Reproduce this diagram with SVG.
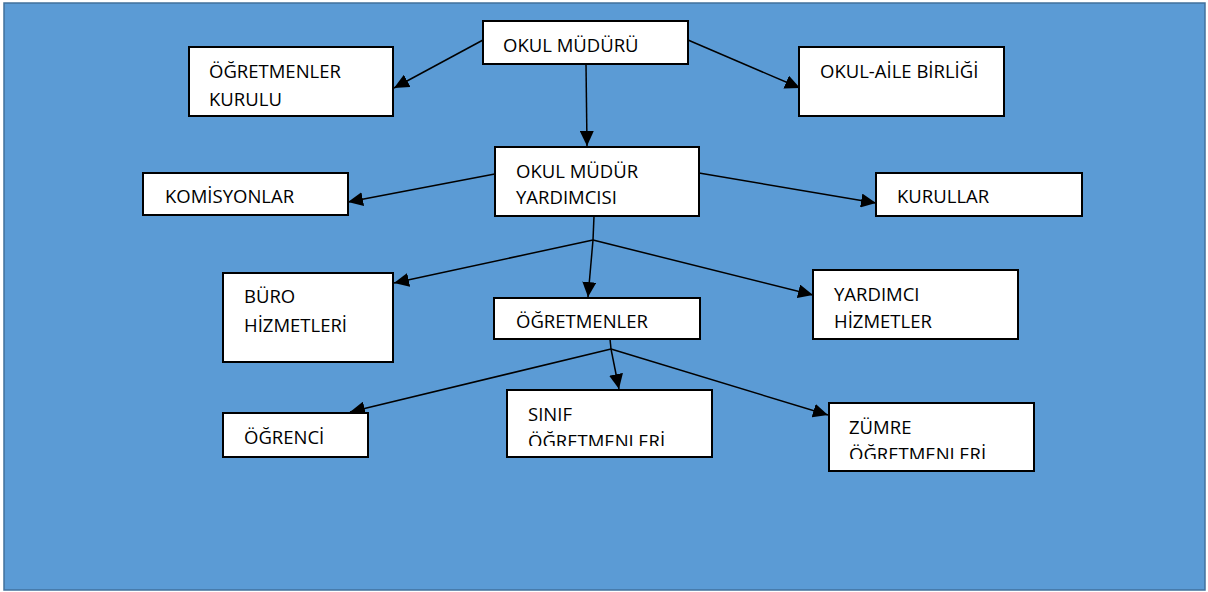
<svg xmlns="http://www.w3.org/2000/svg" width="1208" height="592" viewBox="0 0 1208 592">
<style>
.bg{fill:#5B9BD5;stroke:#41719C;stroke-width:1.5}
.box{fill:#FFFFFF;stroke:#000000;stroke-width:2}
.t{font-family:"Open Sans","Noto Sans",sans-serif;font-size:18.5px;fill:#000000}
.c{stroke:#000000;stroke-width:1.5;fill:none}
</style>
<defs>
<marker id="ah" viewBox="0 0 15 14" refX="15" refY="7" markerWidth="15" markerHeight="14" markerUnits="userSpaceOnUse" orient="auto">
<path d="M0,0 L15,7 L0,14 Z" fill="#000000"/>
</marker>
<clipPath id="clipSinif"><rect x="507" y="390" width="205" height="56"/></clipPath>
<clipPath id="clipZumre"><rect x="829" y="403" width="205" height="56"/></clipPath>
</defs>
<rect x="0" y="0" width="1208" height="592" fill="#FFFFFF"/>
<rect class="bg" x="4" y="3" width="1201" height="587"/>

<g id="connectors">
<line class="c" x1="483" y1="40" x2="394" y2="88" marker-end="url(#ah)"/>
<line class="c" x1="688" y1="40" x2="800" y2="88" marker-end="url(#ah)"/>
<line class="c" x1="586" y1="64" x2="587" y2="146" marker-end="url(#ah)"/>
<line class="c" x1="500" y1="173" x2="348" y2="202" marker-end="url(#ah)"/>
<line class="c" x1="699" y1="173" x2="876" y2="203" marker-end="url(#ah)"/>
<line class="c" x1="594" y1="216" x2="593" y2="240"/>
<line class="c" x1="593" y1="240" x2="394" y2="283" marker-end="url(#ah)"/>
<line class="c" x1="593" y1="240" x2="588" y2="297" marker-end="url(#ah)"/>
<line class="c" x1="593" y1="240" x2="813" y2="295" marker-end="url(#ah)"/>
<line class="c" x1="610" y1="339" x2="611" y2="349"/>
<line class="c" x1="611" y1="349" x2="350" y2="412" marker-end="url(#ah)"/>
<line class="c" x1="611" y1="349" x2="619" y2="389" marker-end="url(#ah)"/>
<line class="c" x1="611" y1="349" x2="828" y2="415" marker-end="url(#ah)"/>
</g>

<g id="okul-muduru">
<rect class="box" x="483" y="21" width="205" height="43"/>
<text class="t" x="503" y="52">OKUL MÜDÜRÜ</text>
</g>
<g id="ogretmenler-kurulu">
<rect class="box" x="189" y="47" width="204" height="69"/>
<text class="t" x="209" y="78">ÖĞRETMENLER</text>
<text class="t" x="209" y="106">KURULU</text>
</g>
<g id="okul-aile-birligi">
<rect class="box" x="799" y="47" width="205" height="69"/>
<text class="t" x="820" y="78">OKUL-AİLE BİRLİĞİ</text>
</g>
<g id="okul-mudur-yardimcisi">
<rect class="box" x="495" y="147" width="204" height="69"/>
<text class="t" x="516" y="178">OKUL MÜDÜR</text>
<text class="t" x="516" y="204">YARDIMCISI</text>
</g>
<g id="komisyonlar">
<rect class="box" x="143" y="173" width="205" height="42"/>
<text class="t" x="165" y="203">KOMİSYONLAR</text>
</g>
<g id="kurullar">
<rect class="box" x="876" y="173" width="206" height="43"/>
<text class="t" x="897" y="203">KURULLAR</text>
</g>
<g id="buro-hizmetleri">
<rect class="box" x="223" y="273" width="170" height="89"/>
<text class="t" x="244" y="303">BÜRO</text>
<text class="t" x="244" y="332">HİZMETLERİ</text>
</g>
<g id="ogretmenler">
<rect class="box" x="494" y="298" width="206" height="41"/>
<text class="t" x="516" y="328">ÖĞRETMENLER</text>
</g>
<g id="yardimci-hizmetler">
<rect class="box" x="813" y="270" width="205" height="69"/>
<text class="t" x="834" y="301">YARDIMCI</text>
<text class="t" x="834" y="328">HİZMETLER</text>
</g>
<g id="ogrenci">
<rect class="box" x="223" y="413" width="145" height="44"/>
<text class="t" x="244" y="444">ÖĞRENCİ</text>
</g>
<g id="sinif-ogretmenleri">
<rect class="box" x="507" y="390" width="205" height="67"/>
<g clip-path="url(#clipSinif)">
<text class="t" x="528" y="421">SINIF</text>
<text class="t" x="528" y="448">ÖĞRETMENLERİ</text>
</g>
</g>
<g id="zumre-ogretmenleri">
<rect class="box" x="829" y="403" width="205" height="68"/>
<g clip-path="url(#clipZumre)">
<text class="t" x="849" y="434">ZÜMRE</text>
<text class="t" x="849" y="461">ÖĞRETMENLERİ</text>
</g>
</g>
</svg>
